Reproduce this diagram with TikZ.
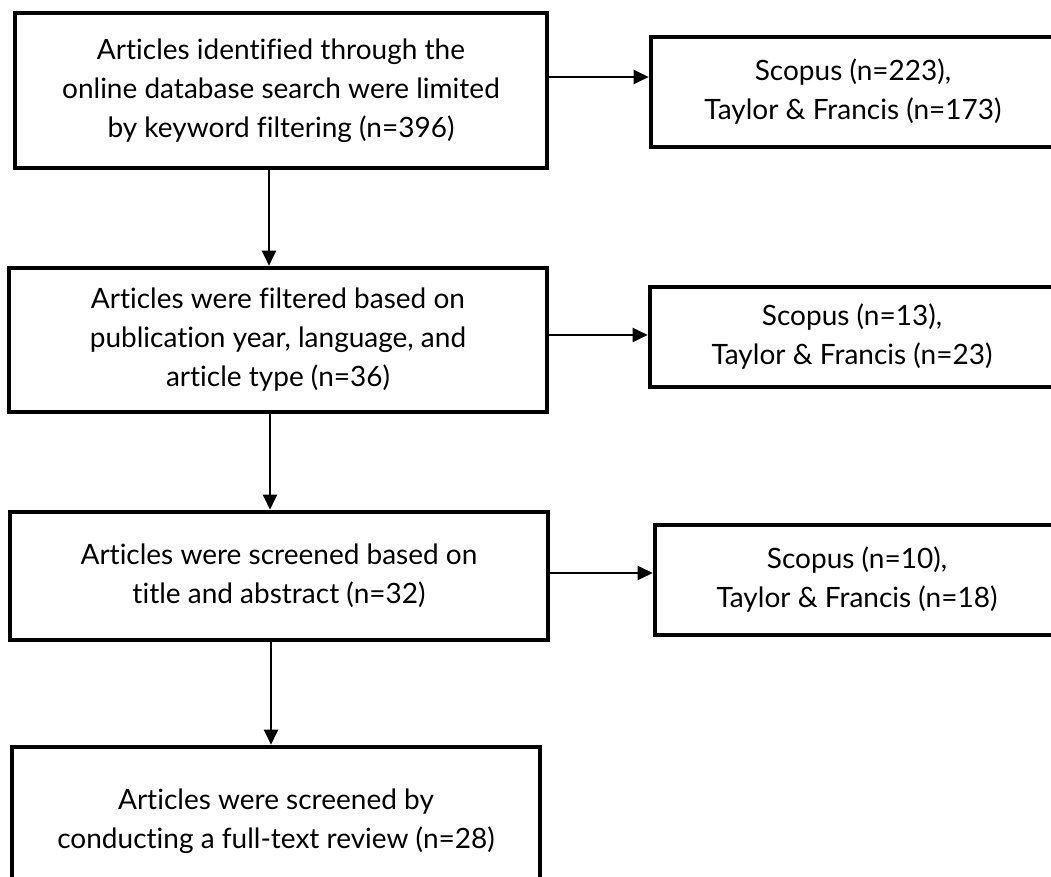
\documentclass[tikz,border=0pt]{standalone}
\usepackage{fontspec}
\setmainfont{Lato}[Ligatures=NoCommon]
\usetikzlibrary{arrows.meta}
\tikzstyle{stage} = [draw, line width=2.3pt, align=center, inner sep=0pt,
	font=\fontsize{14}{19.5}\selectfont]
\tikzstyle{source} = [stage, minimum width=202pt]
\tikzstyle{arrow} = [line width=1.15pt,->,>={Triangle[length=7.5pt,width=7pt]}]

\begin{document}
\begin{tikzpicture}[x=0.5pt,y=-0.5pt]
	\useasboundingbox (0,0) rectangle (1051,877);
	\clip (0,0) rectangle (1051,877);
	% left column
	\node[stage, minimum width=266pt, minimum height=77.5pt] (identified) at (281,90.5)
		{Articles identified through the\\online database search were limited\\by keyword filtering (n=396)};
	\node[stage, minimum width=269pt, minimum height=72pt] (filtered) at (278,340)
		{Articles were filtered based on\\publication year, language, and\\article type (n=36)};
	\node[stage, minimum width=269pt, minimum height=64pt] (titles) at (279,576)
		{Articles were screened based on\\title and abstract (n=32)};
	\node[stage, minimum width=264pt, minimum height=74pt] (fulltext) at (276,821)
		{Articles were screened by\\conducting a full-text review (n=28)};
	% right column
	\node[source, minimum height=55pt] (src1) at (853,92)
		{Scopus (n=223),\\Taylor \& Francis (n=173)};
	\node[source, minimum height=50pt] (src2) at (852,337)
		{Scopus (n=13),\\Taylor \& Francis (n=23)};
	\node[source, minimum height=55pt] (src3) at (857,580)
		{Scopus (n=10),\\Taylor \& Francis (n=18)};
	% arrows
	\draw[arrow] ([yshift=6.75pt]identified.east) -- ([yshift=6.75pt]identified.east -| src1.west);
	\draw[arrow] ([yshift=2.5pt]filtered.east) -- ([yshift=2.5pt]filtered.east -| src2.west);
	\draw[arrow] ([yshift=1.5pt]titles.east) -- ([yshift=1.5pt]titles.east -| src3.west);
	\draw[arrow] ([xshift=-6pt]identified.south) -- ([xshift=-6pt]identified.south |- filtered.north);
	\draw[arrow] ([xshift=-4pt]filtered.south) -- ([xshift=-4pt]filtered.south |- titles.north);
	\draw[arrow] ([xshift=-4pt]titles.south) -- ([xshift=-4pt]titles.south |- fulltext.north);
\end{tikzpicture}
\end{document}
